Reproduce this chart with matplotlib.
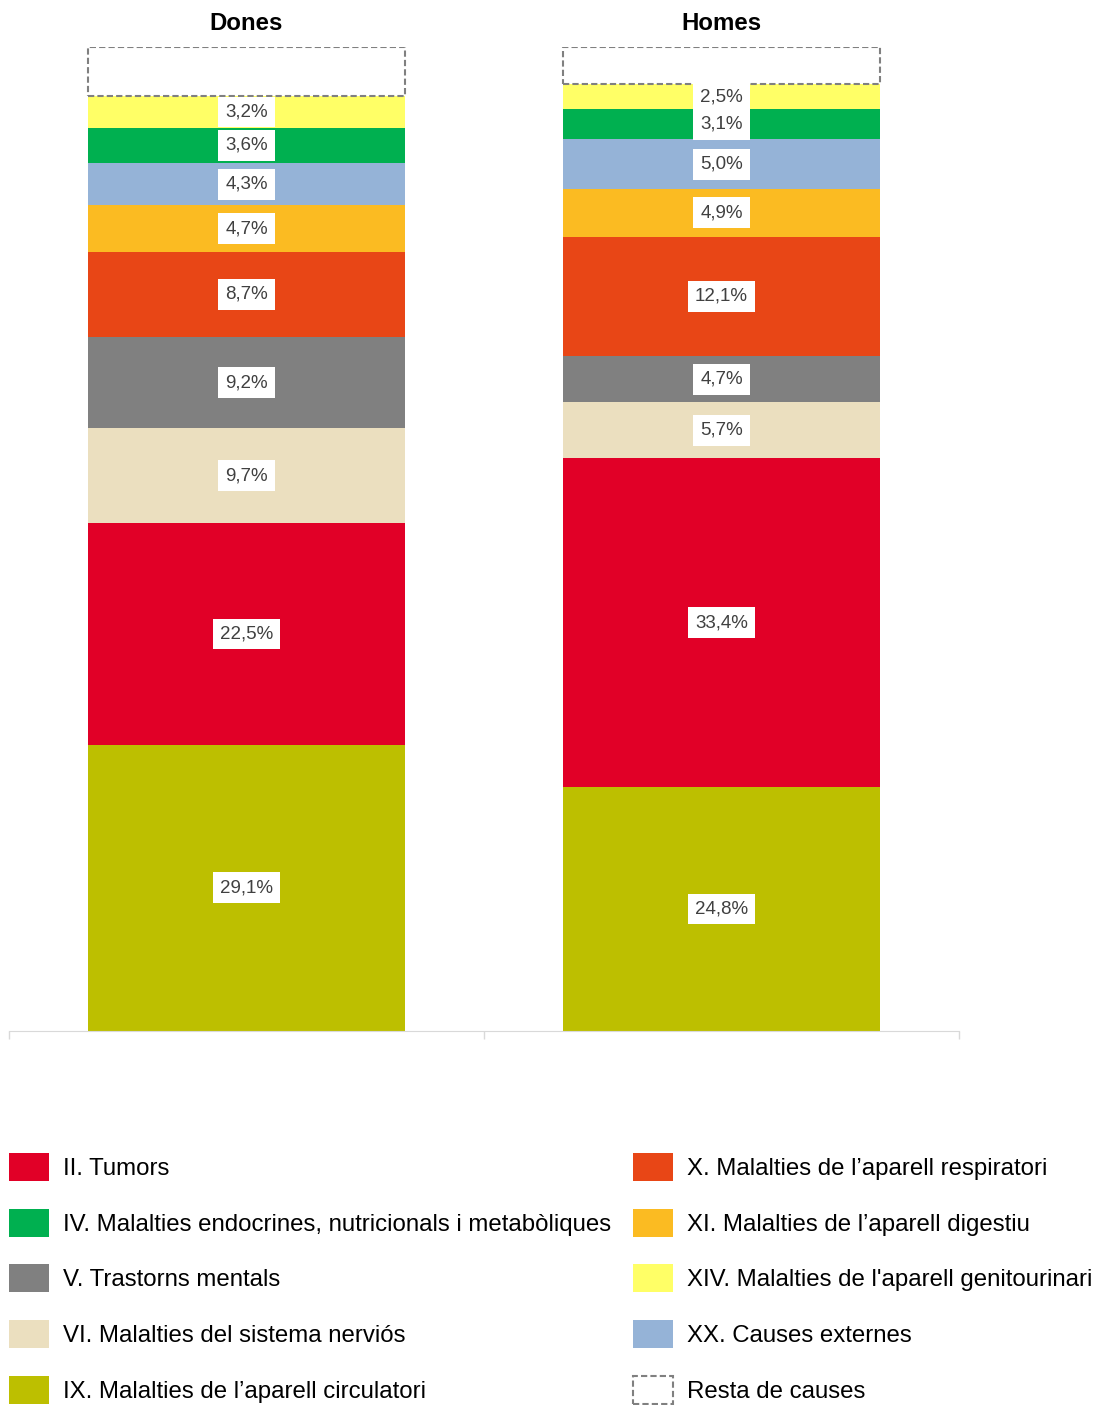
import numpy as np
import matplotlib
matplotlib.use('Agg')
from matplotlib import pyplot as plt

plt.rcParams['font.family'] = ['Liberation Sans', 'DejaVu Sans']

groups = ['Dones', 'Homes']
causes = ['IX. Malalties de l\u2019aparell circulatori', 'II. Tumors',
          'VI. Malalties del sistema nervi\u00f3s', 'V. Trastorns mentals',
          'X. Malalties de l\u2019aparell respiratori', 'XI. Malalties de l\u2019aparell digestiu',
          'XX. Causes externes', 'IV. Malalties endocrines, nutricionals i metab\u00f2liques',
          "XIV. Malalties de l'aparell genitourinari", 'Resta de causes']
dones = [29.1, 22.5, 9.7, 9.2, 8.7, 4.7, 4.3, 3.6, 3.2, 5.0]
homes = [24.8, 33.4, 5.7, 4.7, 12.1, 4.9, 5.0, 3.1, 2.5, 3.8]
colors = ['#bdbf00', '#e10027', '#ebdfbf', '#808080', '#e84616', '#fbbb22',
          '#95b3d7', '#00b050', '#ffff66', 'white']
legend_order = [1, 7, 3, 2, 0, 4, 5, 8, 6, 9]

W, H = 1096, 1405
fig = plt.figure(figsize=(W / 100, H / 100), dpi=100)
ax = fig.add_axes([9 / W, (H - 1031) / H, 950 / W, 984 / H])

vals = np.array([dones, homes])
x = np.arange(len(groups))
bottom = np.zeros(len(groups))
bars = []
for i, name in enumerate(causes):
    if name == 'Resta de causes':
        b = ax.bar(x, vals[:, i], 0.667, bottom=bottom, color='white',
                   edgecolor='#808080', linestyle=(0, (3, 1.5)), linewidth=1.5,
                   label=name)
    else:
        b = ax.bar(x, vals[:, i], 0.667, bottom=bottom, color=colors[i],
                   linewidth=0, label=name)
        for j in range(len(groups)):
            ax.text(x[j], bottom[j] + vals[j, i] / 2,
                    f'{vals[j, i]:.1f}'.replace('.', ',') + '%',
                    ha='center', va='center', fontsize=13.5, color='#404040',
                    bbox=dict(facecolor='white', edgecolor='none', pad=5))
    bars.append(b)
    bottom += vals[:, i]

ax.set_xlim(-0.5, 1.5)
ax.set_ylim(0, 100)
ax.set_yticks([])
ax.set_xticks([-0.5, 0.5, 1.5])
ax.set_xticklabels([])
ax.tick_params(axis='x', length=6, color='#d9d9d9', width=1)
for s in ['top', 'left', 'right']:
    ax.spines[s].set_visible(False)
ax.spines['bottom'].set_color('#d9d9d9')
ax.patch.set_alpha(0)

for j, g in enumerate(groups):
    ax.text(x[j], 102.4, g, ha='center', va='center', fontsize=17.3,
            fontweight='bold', clip_on=False)

handles = [bars[k] for k in legend_order]
labels = [causes[k] for k in legend_order]
fig.legend(handles, labels, ncol=2, loc='upper left',
           bbox_to_anchor=(9 / W, 1 - 1153 / H), frameon=False,
           fontsize=17.3, handlelength=1.67, handleheight=1.42,
           handletextpad=0.58, labelspacing=1.15, columnspacing=0.92,
           borderpad=0, borderaxespad=0)

fig.savefig('out.png', dpi=100)
